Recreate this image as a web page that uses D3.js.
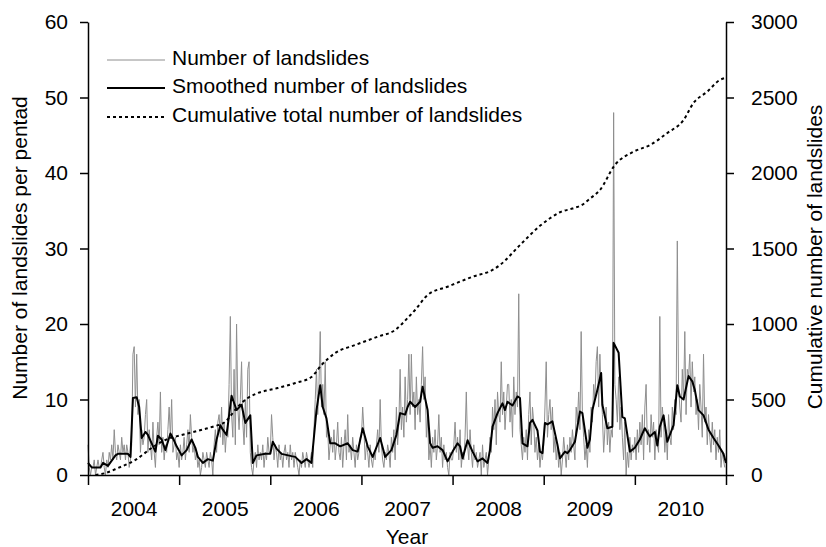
<!DOCTYPE html>
<html>
<head>
<meta charset="utf-8">
<script src="https://cdn.jsdelivr.net/npm/d3@7"></script>
<style>
  body { margin: 0; background: #fff; }
  svg text { font-family: Arial, "Liberation Sans", sans-serif; fill: #000; }
  .axis path, .axis line { stroke: #000; stroke-width: 1.5; }
</style>
</head>
<body>
<div id="chart"></div>
<script>
// pentads (5-day periods), 73 per year, 2004..2010
var years = [2004, 2005, 2006, 2007, 2008, 2009, 2010];
var yearStarts = [0, 73, 146, 219, 292, 365, 438, 511];

// number of landslides per pentad
var counts = [
  // 2004
  4,1,0,1,1,2,0,1,2,1, 1,2,3,1,0,2,1,3,2,4, 2,6,3,2,4,3,2,5,3,4,
  2,4,3,1,2,4,16,17,9,16, 8,10,3,6,4,5,8,10,3,6, 4,2,7,3,1,5,7,4,11,3,
  5,2,4,3,6,9,5,10,3,4, 5,2,3,
  // 2005
  1,4,2,3,5,2,4,6,3,8, 5,3,4,2,3,1,2,0,1,3, 2,1,3,2,1,3,2,0,4,6,
  3,7,8,5,9,4,7,3,6,5, 12,21,8,5,14,4,20,9,6,10, 15,7,4,10,5,14,15,3,1,0,
  2,3,1,4,2,3,2,4,1,3,2,5,3,
  // 2006
  3,8,5,2,4,3,1,4,2,3, 1,3,4,2,3,1,4,2,3,1, 3,2,1,0,2,1,3,2,1,3,
  2,1,2,3,1,6,10,14,8,12, 19,9,12,8,15,5,6,2,4,5, 3,6,2,4,7,3,2,5,1,4,
  6,2,8,3,4,2,5,3,1,4,2,3,5,
  // 2007
  5,9,6,2,4,3,1,4,2,1, 3,2,4,6,3,10,4,2,1,3, 2,4,3,1,5,3,6,2,9,4,
  7,14,6,9,5,13,7,10,16,8, 16,9,11,6,13,8,10,7,12,17, 10,13,5,8,2,4,1,5,3,6,
  2,4,8,3,5,1,4,2,3,1,0,3,2,
  // 2008
  2,4,7,3,5,2,6,1,3,2, 5,11,4,2,6,3,1,4,2,3, 1,2,3,0,4,1,2,3,0,2,
  5,3,9,6,10,4,11,8,7,15, 8,11,6,9,12,12,7,10,5,13, 8,11,9,24,6,4,2,5,3,6,
  2,8,11,4,9,7,3,5,2,4,1,3,2,
  // 2009
  4,9,15,5,8,10,6,9,3,5, 2,4,1,3,0,2,5,3,1,4, 2,5,3,6,4,2,9,7,11,6,
  19,8,5,2,4,1,6,3,9,7, 12,10,15,17,9,16,11,8,3,6, 9,4,7,3,6,5,48,12,10,7,
  13,6,9,5,2,7,0,3,1,5,2,4,3,
  // 2010
  5,2,6,3,7,4,8,2,9,12, 4,6,3,8,5,7,2,6,4,3, 21,5,9,7,3,6,2,8,5,4,
  9,6,10,8,31,12,9,7,14,10, 19,8,14,13,16,9,15,11,13,8, 10,6,12,9,5,16,7,9,4,8,
  5,3,7,4,6,2,5,3,6,1,3,2,1
];

// smoothed number of landslides (pentad index, value)
var smoothPentad = [0,3,10,12,16,22,24,32,34,36,39,41,43,46,48,51,54,56,59,62,66,68,71,
  75,79,83,86,88,92,96,100,103,106,108,111,115,119,123,126,130,132,135,142,
  146,148,151,155,163,166,171,175,179,183,186,188,191,194,198,202,208,212,216,
  220,224,228,234,238,243,247,250,254,256,258,262,266,268,272,274,276,280,284,288,
  292,296,298,300,304,308,312,316,320,322,324,328,332,334,336,340,344,346,348,352,354,356,360,362,364,
  366,368,372,376,378,382,384,386,390,394,396,400,402,404,408,411,412,416,420,421,425,428,430,434,
  438,442,446,450,454,456,458,461,464,466,469,472,474,477,481,484,486,489,493,497,501,505,509,511];
var smoothValue = [1.6,1.0,1.0,1.6,1.2,2.6,2.8,2.8,2.4,10.2,10.3,9.0,4.9,5.7,5.3,4.2,3.1,5.2,4.7,3.3,5.5,4.9,3.8,
  2.6,3.3,4.7,3.6,2.4,1.6,2.1,1.9,4.7,6.6,6.0,5.3,10.5,8.6,9.3,6.9,7.9,1.6,2.6,2.8,
  2.8,4.4,3.5,2.8,2.5,2.4,1.6,2.1,1.6,8.6,11.9,9.0,7.5,4.2,4.2,3.8,4.2,3.3,3.1,
  6.2,3.8,2.4,4.9,2.4,3.3,5.3,8.2,8.0,9.0,9.7,9.0,9.7,11.7,8.6,4.2,3.6,3.8,3.3,1.8,
  3.1,4.2,3.8,2.2,4.6,3.1,1.8,2.2,1.6,3.3,6.4,8.2,9.5,8.6,9.7,9.2,10.4,10.2,4.2,3.8,6.9,7.3,5.9,3.1,2.9,
  6.9,6.7,7.1,4.0,2.2,3.1,2.9,3.3,4.4,8.4,8.2,3.6,4.7,8.6,11.3,13.5,9.3,6.2,6.4,17.5,16.2,7.7,7.5,3.1,
  3.6,4.7,6.2,5.1,5.7,3.9,6.4,7.9,4.4,5.3,6.6,11.9,10.4,10.0,13.1,12.4,11.3,8.6,7.9,6.0,4.9,3.9,2.8,1.6];

// cumulative total number of landslides (pentad index, value)
var cumPentad = [6,14,24,38,51,62,75,88,100,110,120,128,134,152,166,179,187,198,214,232,246,256,262,272,288,308,324,330,346,362,370,378,388,396,402,410,422,437,450,464,477,485,496,506,511];
var cumValue = [0,13,46,100,179,232,265,293,320,353,452,510,536,576,609,649,728,808,861,916,960,1040,1093,1192,1247,1313,1358,1391,1523,1650,1700,1740,1765,1790,1830,1887,2053,2141,2185,2265,2351,2464,2539,2616,2631];

function drawChart() {
  var width = 826, height = 547;
  var mLeft = 88, mRight = 726, mTop = 22, mBottom = 475;
  var fontSize = "21px";

  var svg = d3.select("#chart").append("svg")
    .attr("width", width)
    .attr("height", height);

  var x = d3.scaleLinear().domain([0, 511]).range([mLeft, mRight]);
  var y = d3.scaleLinear().domain([0, 60]).range([mBottom, mTop]);
  var y2 = d3.scaleLinear().domain([0, 3000]).range([mBottom, mTop]);

  var rawLine = d3.line()
    .x(function(d, i) { return x(i); })
    .y(function(d) { return y(d); });

  var smoothLine = d3.line()
    .x(function(d, i) { return x(smoothPentad[i]); })
    .y(function(d) { return y(d); });

  var cumLine = d3.line()
    .x(function(d, i) { return x(cumPentad[i]); })
    .y(function(d) { return y2(d); })
    .curve(d3.curveMonotoneX);

  svg.append("path")
    .datum(counts)
    .attr("fill", "none")
    .attr("stroke", "#8e8e8e")
    .attr("stroke-width", 1)
    .attr("d", rawLine);

  svg.append("path")
    .datum(cumValue)
    .attr("fill", "none")
    .attr("stroke", "#000")
    .attr("stroke-width", 2)
    .attr("stroke-dasharray", "3,3")
    .attr("d", cumLine);

  svg.append("path")
    .datum(smoothValue)
    .attr("fill", "none")
    .attr("stroke", "#000")
    .attr("stroke-width", 2)
    .attr("stroke-linejoin", "round")
    .attr("d", smoothLine);

  // axes
  svg.append("g").attr("class", "axis")
    .attr("transform", "translate(" + mLeft + ",0)")
    .call(d3.axisLeft(y).tickValues([0,10,20,30,40,50,60]).tickSize(8).tickSizeOuter(0).tickPadding(12));

  svg.append("g").attr("class", "axis")
    .attr("transform", "translate(" + mRight + ",0)")
    .call(d3.axisRight(y2).tickValues([0,500,1000,1500,2000,2500,3000])
      .tickFormat(d3.format("d")).tickSize(8).tickSizeOuter(0).tickPadding(17));

  svg.append("g").attr("class", "axis")
    .attr("transform", "translate(0," + mBottom + ")")
    .call(d3.axisBottom(x).tickValues(yearStarts).tickSize(10).tickSizeOuter(0).tickFormat(""));

  var mids = years.map(function(d, i) { return (yearStarts[i] + yearStarts[i + 1]) / 2; });
  var gy = svg.append("g").attr("class", "axis")
    .attr("transform", "translate(0," + mBottom + ")")
    .call(d3.axisBottom(x).tickValues(mids).tickSize(0).tickPadding(26)
      .tickFormat(function(d, i) { return years[i]; }));
  gy.select(".domain").remove();

  svg.selectAll(".axis text")
    .style("font-size", fontSize)
    .style("font-family", "Arial, 'Liberation Sans', sans-serif");

  // axis titles
  svg.append("text")
    .attr("transform", "translate(21,248) rotate(-90)")
    .attr("text-anchor", "middle")
    .attr("dominant-baseline", "middle")
    .style("font-size", fontSize)
    .text("Number of landslides per pentad");

  svg.append("text")
    .attr("transform", "translate(816,257) rotate(-90)")
    .attr("text-anchor", "middle")
    .attr("dominant-baseline", "middle")
    .style("font-size", fontSize)
    .text("Cumulative number of landslides");

  svg.append("text")
    .attr("x", (mLeft + mRight) / 2)
    .attr("y", 538)
    .attr("text-anchor", "middle")
    .attr("dominant-baseline", "middle")
    .style("font-size", fontSize)
    .text("Year");

  // legend
  var legend = [
    { label: "Number of landslides", stroke: "#8e8e8e", width: 1, dash: null, y: 60 },
    { label: "Smoothed number of landslides", stroke: "#000", width: 2, dash: null, y: 88 },
    { label: "Cumulative total number of landslides", stroke: "#000", width: 2, dash: "3,3", y: 117 }
  ];

  var lg = svg.append("g").selectAll("g").data(legend).enter().append("g");
  lg.append("line")
    .attr("x1", 107).attr("x2", 165)
    .attr("y1", function(d) { return d.y; })
    .attr("y2", function(d) { return d.y; })
    .attr("stroke", function(d) { return d.stroke; })
    .attr("stroke-width", function(d) { return d.width; })
    .attr("stroke-dasharray", function(d) { return d.dash; });
  lg.append("text")
    .attr("x", 172)
    .attr("y", function(d) { return d.y - 1; })
    .attr("dominant-baseline", "middle")
    .style("font-size", fontSize)
    .text(function(d) { return d.label; });
}

drawChart();
</script>
</body>
</html>
